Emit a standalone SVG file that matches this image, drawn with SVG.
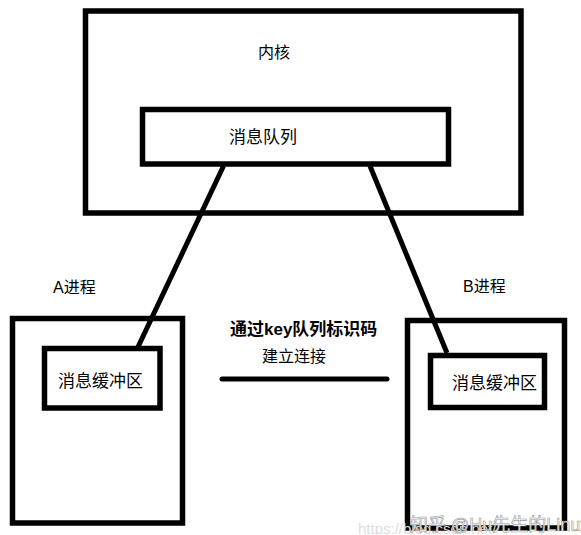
<svg xmlns="http://www.w3.org/2000/svg" width="581" height="535" viewBox="0 0 581 535">
<style>
.box{fill:none;stroke:#000;stroke-width:5.5}
.t{font-family:"Liberation Sans","Noto Sans CJK SC",sans-serif;font-size:16px;fill:#000}
.b{font-weight:bold;font-size:17px}
.c{stroke:#000;stroke-width:5;fill:none}
</style>
<rect width="581" height="535" fill="#fff"/>
<g id="kernel">
<rect class="box" x="85.5" y="11" width="435.5" height="202"/>
<text class="t" x="258" y="58">内核</text>
</g>
<g id="queue">
<rect class="box" x="142.5" y="109.5" width="306" height="54.5"/>
<text class="t" x="229" y="143" style="font-size:17px">消息队列</text>
</g>
<g id="procA">
<rect class="box" x="12.5" y="318.5" width="170" height="204.5"/>
<text class="t" x="53" y="293">A进程</text>
</g>
<g id="bufA">
<rect class="box" x="44.5" y="348.5" width="115.5" height="59.5"/>
<text class="t" x="58" y="387" style="font-size:17px">消息缓冲区</text>
</g>
<g id="procB">
<rect class="box" x="407.5" y="320.5" width="157" height="207.5"/>
<text class="t" x="463" y="292">B进程</text>
</g>
<g id="bufB">
<rect class="box" x="430.5" y="355.5" width="114" height="52"/>
<text class="t" x="452" y="389" style="font-size:17px">消息缓冲区</text>
</g>
<g id="connectors">
<line class="c" x1="223.5" y1="166" x2="138" y2="347"/>
<line class="c" x1="370" y1="166" x2="447" y2="353"/>
<line class="c" x1="222" y1="379" x2="387" y2="379" stroke-linecap="round"/>
</g>
<g id="label">
<text class="t b" x="230" y="335">通过key队列标识码</text>
<text class="t" x="262" y="362">建立连接</text>
</g>
<g id="watermark">
<text x="358" y="534" style="font-family:'Liberation Sans',sans-serif;font-size:15px;fill:#ddd">https://blog.csdn.net/</text>
<text x="410" y="531" style="font-family:'Liberation Sans','Noto Sans CJK SC',sans-serif;font-size:18px;fill:#fff;stroke:#999;stroke-width:0.6">知乎 @Hu先生的Linux</text>
</g>
</svg>
